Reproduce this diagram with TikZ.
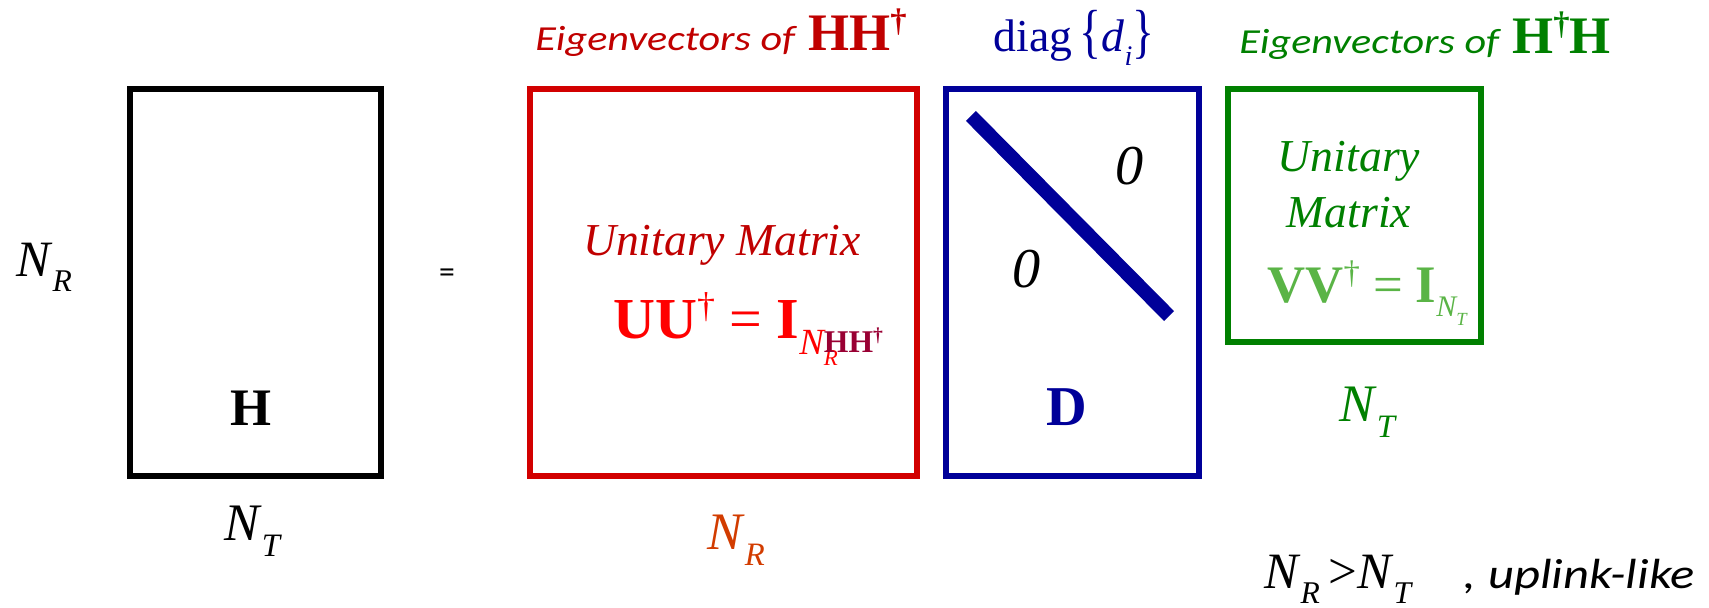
\documentclass[tikz,border=0pt]{standalone}
\usepackage{fontspec}
\setmainfont{Liberation Serif}
\newfontfamily\calfont{Carlito}
\usepackage{graphicx}
\usetikzlibrary{positioning,calc}
\definecolor{eigRed}{RGB}{192,0,0}
\definecolor{boxRed}{RGB}{210,0,0}
\definecolor{brightRed}{RGB}{255,0,0}
\definecolor{hhMaroon}{RGB}{153,0,51}
\definecolor{nrOrange}{RGB}{210,60,0}
\definecolor{diagBlue}{RGB}{0,0,153}
\definecolor{eigGreen}{RGB}{0,128,0}
\definecolor{lightGreen}{RGB}{90,180,70}
\newcommand{\fs}[1]{\fontsize{#1}{#1}\selectfont}
\newcommand{\dg}{\raisebox{0.36em}{\scalebox{0.62}{\textdagger}}}
\newcommand{\lsub}[1]{\raisebox{-0.3em}{\scalebox{0.62}{#1}}}
\newcommand{\Nsub}[1]{\textit{N}\lsub{\textit{#1}}}
\newcommand{\wide}[1]{\scalebox{1.2}[1]{#1}}

\begin{document}
\begin{tikzpicture}[
    mat/.style={draw, line width=3.5pt, inner sep=0pt, minimum height=7.74cm},
    lbl/.style={inner sep=0pt}]
  \useasboundingbox (0,0) rectangle (34.18,-12.14);
  % the four matrices
  \node[mat, minimum width=5.02cm] (hmat) at (5.11,-5.65) {};
  \node[mat, draw=boxRed, minimum width=7.74cm] (umat) at (14.47,-5.65) {};
  \node[mat, draw=diagBlue, minimum width=5.06cm] (dmat) at (21.45,-5.65) {};
  \node[mat, draw=eigGreen, minimum width=5.06cm, minimum height=5.06cm] (vmat) at (27.09,-4.31) {};
  % diagonal of D
  \coordinate (dtop) at ($(dmat.north west)+(0.56,-0.6)$);
  \coordinate (dbot) at ($(dmat.south east)+(-0.66,3.26)$);
  \draw[diagBlue, line width=8pt] (dtop) -- (dbot);
  % H
  \node[lbl, font=\fs{29}] (nrleft) at (0.88,-5.34) {\Nsub{R}};
  \node[lbl, font=\calfont\fs{18}] (eq) at (8.94,-5.52) {=};
  \node[lbl, font=\fs{30}\bfseries] (hname) at (5.02,-8.16) {H};
  \node[lbl, font=\fs{30}] (nth) at (5.06,-10.62) {\Nsub{T}};
  % U
  \node[lbl, text=eigRed] (eigu) at (14.42,-0.66)
    {\calfont\itshape\fs{20}\wide{Eigenvectors of}\hspace{0.15em} \rmfamily\upshape\bfseries\fs{30}HH\dg};
  \node[lbl, text=eigRed, font=\fs{26}\itshape] (unitu) at (14.44,-4.90) {Unitary Matrix};
  \node[lbl, text=brightRed, font=\fs{33}, anchor=base west] (uueq) at (12.26,-6.76)
    {\textbf{UU}\dg{} = \textbf{I}\raisebox{-9.6pt}{\fs{21}\itshape N\rlap{\lsub{R}}}\raisebox{-8.5pt}{\fs{18}\bfseries\color{hhMaroon}HH\dg}};
  \node[lbl, text=nrOrange, font=\fs{30}] (nru) at (14.72,-10.80) {\Nsub{R}};
  % D
  \node[lbl, text=diagBlue, font=\fs{26}] (diagd) at (21.48,-0.76)
    {diag\,\scalebox{1}[1.3]{\{}\textit{d}\lsub{\textit{i}}\scalebox{1}[1.3]{\}}};
  \node[lbl, font=\fs{32}\itshape] (zup) at (22.60,-3.32) {0};
  \node[lbl, font=\fs{32}\itshape] (zlow) at (20.54,-5.38) {0};
  \node[lbl, text=diagBlue, font=\fs{32}\bfseries] (dname) at (21.34,-8.14) {D};
  % V
  \node[lbl, text=eigGreen] (eigv) at (28.50,-0.72)
    {\calfont\itshape\fs{20}\wide{Eigenvectors of}\hspace{0.15em} \rmfamily\upshape\bfseries\fs{30}H\dg H};
  \node[lbl, text=eigGreen, align=center, font=\fontsize{26}{32}\selectfont\itshape] (unitv) at (26.98,-3.69) {Unitary\\Matrix};
  \node[lbl, text=lightGreen, font=\fs{30}, anchor=base west] (vveq) at (25.34,-6.04)
    {\textbf{VV}\dg{} = \textbf{I}\raisebox{-8.5pt}{\fs{17}\itshape N\lsub{T}}};
  \node[lbl, text=eigGreen, font=\fs{30}] (ntv) at (27.36,-8.24) {\Nsub{T}};
  % condition
  \node[lbl, font=\fs{29}, anchor=base east] (cond) at (33.90,-11.76)
    {\Nsub{R}\,>\Nsub{T}\hspace{1em}{\calfont\itshape\fs{24}\wide{, uplink-like}}};
\end{tikzpicture}
\end{document}
